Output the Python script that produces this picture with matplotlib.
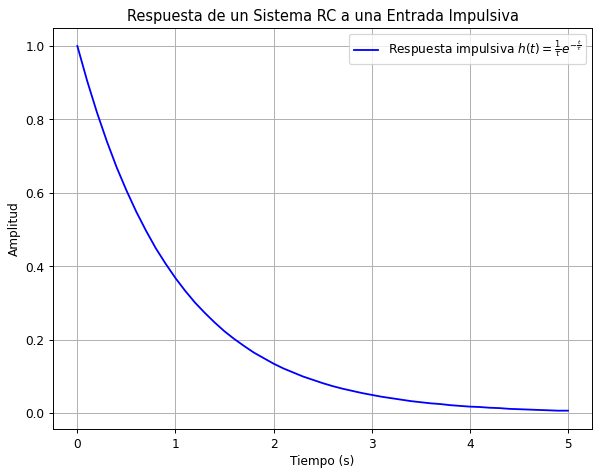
import matplotlib
matplotlib.use("Agg")
import matplotlib.pyplot as plt

# tiempo (s) y amplitud
tiempo = [0.0, 0.1, 0.2, 0.3, 0.4, 0.5, 0.6, 0.7, 0.8, 0.9,
          1.0, 1.1, 1.2, 1.3, 1.4, 1.5, 1.6, 1.7, 1.8, 1.9,
          2.0, 2.1, 2.2, 2.3, 2.4, 2.5, 2.6, 2.7, 2.8, 2.9,
          3.0, 3.1, 3.2, 3.3, 3.4, 3.5, 3.6, 3.7, 3.8, 3.9,
          4.0, 4.1, 4.2, 4.3, 4.4, 4.5, 4.6, 4.7, 4.8, 4.9, 5.0]
amplitud = [1.000, 0.905, 0.819, 0.741, 0.670, 0.607, 0.549, 0.497, 0.449, 0.407,
            0.368, 0.333, 0.301, 0.273, 0.247, 0.223, 0.202, 0.183, 0.165, 0.150,
            0.135, 0.122, 0.111, 0.100, 0.091, 0.082, 0.074, 0.067, 0.061, 0.055,
            0.050, 0.045, 0.041, 0.037, 0.033, 0.030, 0.027, 0.025, 0.022, 0.020,
            0.018, 0.017, 0.015, 0.014, 0.012, 0.011, 0.010, 0.009, 0.008, 0.007, 0.007]

fig = plt.figure(figsize=(6.9, 5.4625), dpi=87)
plt.plot(tiempo, amplitud, color="b",
         label=r"Respuesta impulsiva $h(t) = \frac{1}{\tau}e^{-\frac{t}{\tau}}$")
plt.title("Respuesta de un Sistema RC a una Entrada Impulsiva")
plt.xlabel("Tiempo (s)")
plt.ylabel("Amplitud")
plt.grid(True)
plt.legend()
plt.subplots_adjust(left=0.088, right=0.987, top=0.941, bottom=0.097)
plt.savefig("out.png")
